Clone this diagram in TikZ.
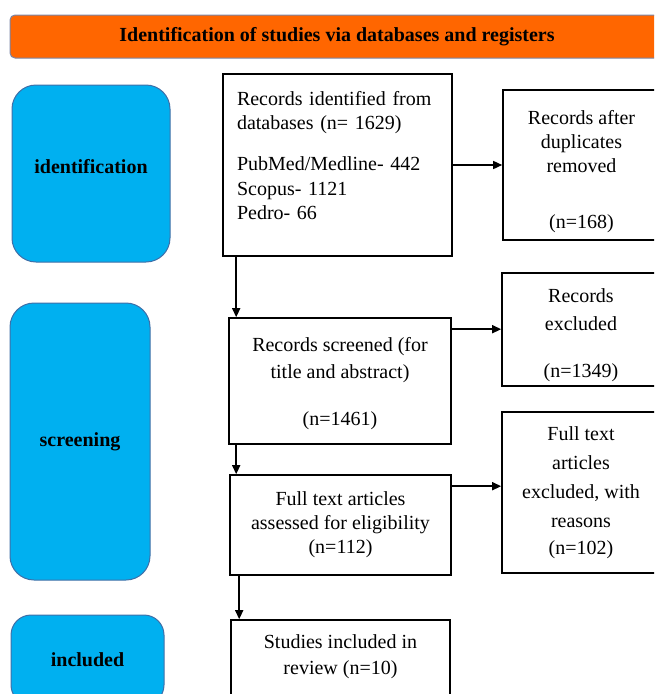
\documentclass[tikz,border=0pt]{standalone}
\usepackage{fontspec}
\setmainfont{Liberation Serif}
\usetikzlibrary{arrows.meta}
\definecolor{barorange}{HTML}{FF6600}
\definecolor{baredge}{HTML}{7A86A8}
\definecolor{stageblue}{HTML}{00B0F0}
\definecolor{stageedge}{HTML}{3F6FA8}

\begin{document}
\begin{tikzpicture}[x=1pt, y=-1pt,
    every node/.style={font=\fontsize{20}{24}\selectfont},
    box/.style={draw, line width=1.6pt, inner sep=0pt, align=center},
    stage/.style={draw=stageedge, line width=1pt, fill=stageblue, rounded corners=24pt, font=\fontsize{20}{24}\selectfont\bfseries},
    arr/.style={-{Triangle[length=9pt,width=8pt]}, line width=1.5pt}]

    \useasboundingbox (0,0) rectangle (654,694);
    \clip (0,0) rectangle (654,694);

    % Header bar
    \node (head) at (337,36.5) [draw=baredge, line width=1pt, fill=barorange, rounded corners=5pt,
        minimum width=654pt, minimum height=43pt, font=\fontsize{20}{24}\selectfont\bfseries]
        {Identification of studies via databases and registers};

    % Stage labels
    \node (ident) at (91,173.5) [stage, minimum width=158pt, minimum height=177pt, text height=14pt, text depth=15pt] {identification};
    \node (screen) at (80,441.5) [stage, minimum width=140pt, minimum height=277pt] {screening};
    \node (incl) at (87.5,660) [stage, rounded corners=20pt, minimum width=153pt, minimum height=90pt] {included};

    % Node definitions
    \node (A) at (337.5,165) [box, align=left, text width=201pt, minimum width=229pt, minimum height=182pt]
        {Records identified from\\databases (n= 1629)\\[17pt]PubMed/Medline- 442\\[1pt]Scopus- 1121\\Pedro- 66\\[-4pt]\mbox{}};
    \node (B) at (581.5,165) [box, minimum width=157pt, minimum height=150pt]
        {\mbox{}\\[4pt]Records after\\duplicates\\removed\\[32pt](n=168)};
    \node (C) at (340,381) [box, minimum width=222pt, minimum height=126pt]
        {\mbox{}\\[-4pt]Records screened (for\\[3pt]title and abstract)\\[23pt](n=1461)};
    \node (D) at (581,329.5) [box, minimum width=158pt, minimum height=113pt]
        {\mbox{}\\[2pt]Records\\[4pt]excluded\\[23pt](n=1349)};
    \node (E) at (340.5,525) [box, minimum width=221pt, minimum height=100pt]
        {Full text articles\\assessed for eligibility\\(n=112)};
    \node (F) at (581,492.5) [box, minimum width=158pt, minimum height=161pt]
        {Full text\\[5pt]articles\\[5pt]excluded, with\\[5pt]reasons\\[3pt](n=102)};
    \node (G) at (340.5,665) [box, minimum width=219pt, minimum height=90pt]
        {Studies included in\\[2pt]review (n=10)\\[-3pt]\mbox{}};

    % Edge definitions
    \draw[arr] (A.east) -- (A.east -| B.west);
    \draw[arr] ([xshift=14pt]A.south west) -- ([xshift=14pt]A.south west |- C.north);
    \draw[arr] ([yshift=-12pt]C.north east) -- ([yshift=-12pt]C.north east -| D.west);
    \draw[arr] ([xshift=8pt]C.south west) -- ([xshift=8pt]C.south west |- E.north);
    \draw[arr] ([yshift=-12pt]E.north east) -- ([yshift=-12pt]E.north east -| F.west);
    \draw[arr] ([xshift=10pt]E.south west) -- ([xshift=10pt]E.south west |- G.north);
\end{tikzpicture}
\end{document}
